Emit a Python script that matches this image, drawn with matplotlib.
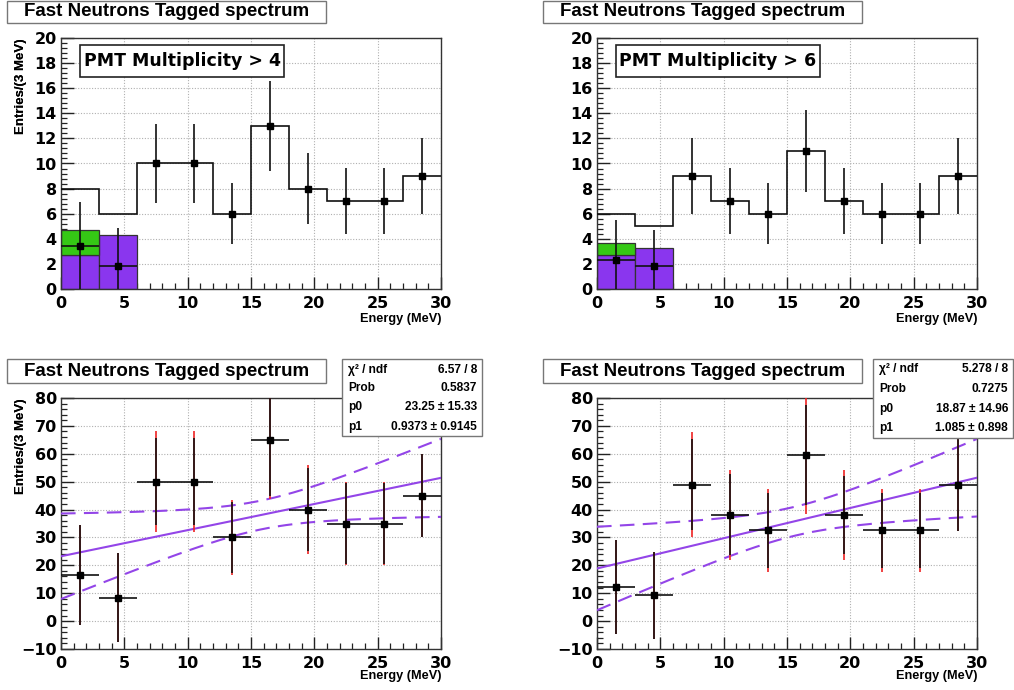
import numpy as np
import matplotlib
matplotlib.use("Agg")
import matplotlib.pyplot as plt
from matplotlib.patches import Rectangle
from matplotlib.ticker import MultipleLocator

# ---------------- data ----------------
edges = [0, 3, 6, 9, 12, 15, 18, 21, 24, 27, 30]
centers = [1.5, 4.5, 7.5, 10.5, 13.5, 16.5, 19.5, 22.5, 25.5, 28.5]

# top-left (PMT Multiplicity > 4)
tl_hist = [8, 6, 10, 10, 6, 13, 8, 7, 7, 9]
tl_pts = [3.4, 1.8, 10, 10, 6, 13, 8, 7, 7, 9]
tl_err = [3.5, 3.1, 3.15, 3.15, 2.45, 3.6, 2.85, 2.65, 2.65, 3.0]
tl_xerr = [1.5, 1.5, 0, 0, 0, 0, 0, 0, 0, 0]
tl_purple = [2.7, 4.3]
tl_green = (2.7, 4.7)

# top-right (PMT Multiplicity > 6)
tr_hist = [6, 5, 9, 7, 6, 11, 7, 6, 6, 9]
tr_pts = [2.3, 1.8, 9, 7, 6, 11, 7, 6, 6, 9]
tr_err = [3.2, 2.9, 3.0, 2.65, 2.45, 3.3, 2.65, 2.45, 2.45, 3.0]
tr_xerr = [1.5, 1.5, 0, 0, 0, 0, 0, 0, 0, 0]
tr_purple = [2.7, 3.3]
tr_green = (2.7, 3.7)

# bottom-left fit panel
bl_pts = [16.6, 8.4, 50, 50, 30, 65, 40, 35, 35, 45]
bl_err_stat = [17.9, 16.0, 15.6, 15.6, 12.7, 20.0, 14.9, 14.5, 14.5, 14.8]
bl_err_tot = [17.9, 16.0, 18.0, 18.0, 13.4, 21.1, 15.8, 15.0, 15.0, 14.8]
bl_p0, bl_p0e = 23.25, 15.33
bl_p1, bl_p1e = 0.9373, 0.9145
bl_cov = -13.2
bl_stats = [("χ² / ndf", "6.57 / 8"), ("Prob", "0.5837"),
            ("p0", "23.25 ± 15.33"), ("p1", "0.9373 ± 0.9145")]

# bottom-right fit panel
br_pts = [12.3, 9.3, 48.9, 38.1, 32.5, 59.7, 38.1, 32.5, 32.5, 48.9]
br_err_stat = [16.8, 15.6, 16.4, 14.5, 13.3, 17.9, 14.0, 13.3, 13.3, 16.5]
br_err_tot = [16.8, 15.6, 18.8, 16.2, 14.8, 21.3, 16.2, 14.8, 14.8, 16.5]
br_p0, br_p0e = 18.87, 14.96
br_p1, br_p1e = 1.085, 0.898
br_cov = -12.6
br_stats = [("χ² / ndf", "5.278 / 8"), ("Prob", "0.7275"),
            ("p0", "18.87 ± 14.96"), ("p1", "1.085 ± 0.898")]

title = "Fast Neutrons Tagged spectrum"
ylab = "Entries/(3 MeV)"
xlab = "Energy (MeV)"

# ---------------- style ----------------
PURPLE_FILL = "#8a36ee"
PURPLE_LINE = "#9345e8"
GREEN = "#35c815"
HFONT = "Liberation Sans"
TFONT = "DejaVu Sans"

W, H = 1014, 690
fig = plt.figure(figsize=(W / 100, H / 100), dpi=100)
fig.patch.set_facecolor("white")


def fx(x):
    return x / W


def fy(y):
    return 1 - y / H


def make_axes(l, t, r, b):
    return fig.add_axes([fx(l), fy(b), (r - l) / W, (b - t) / H])


def fig_box(l, t, r, b, lw=1.0, ec="#555555", z=5):
    fig.patches.append(Rectangle((fx(l), fy(b)), (r - l) / W, (b - t) / H,
                                 transform=fig.transFigure, facecolor="white",
                                 edgecolor=ec, lw=lw, zorder=z))


def style_axes(ax, ylim, ymaj, ymin):
    ax.set_xlim(0, 30)
    ax.set_ylim(*ylim)
    ax.xaxis.set_major_locator(MultipleLocator(5))
    ax.xaxis.set_minor_locator(MultipleLocator(1))
    ax.yaxis.set_major_locator(MultipleLocator(ymaj))
    ax.yaxis.set_minor_locator(MultipleLocator(ymin))
    ax.tick_params(which="major", direction="in", length=9, width=1.0,
                   labelsize=11.5, colors="#222222")
    ax.tick_params(which="minor", direction="in", length=4.5, width=0.9,
                   colors="#222222")
    ax.tick_params(axis="y", pad=3)
    ax.tick_params(axis="x", pad=5)
    for lab in ax.get_xticklabels() + ax.get_yticklabels():
        lab.set_fontfamily(TFONT)
        lab.set_fontweight("bold")
        lab.set_color("black")
    ax.grid(True, which="major", ls=(0, (1, 1.5)), lw=0.8, color="#b0b0b0")
    ax.set_axisbelow(True)
    for s in ax.spines.values():
        s.set_color("#333333")
        s.set_linewidth(1.0)


def frame_text(l, t, r, b):
    fig_box(l, t, r, b, lw=1.0, ec="#777777")
    fig.text(fx((l + r) / 2), fy((t + b) / 2), title, ha="center", va="center",
             fontsize=13.5, fontweight="bold", family=HFONT, zorder=6)


def axis_labels(axl, axt, axr, xlab_y):
    fig.text(fx(21), fy(axt), ylab, rotation=90, ha="center", va="top",
             fontsize=9.5, fontweight="bold", family=HFONT)
    fig.text(fx(axr), fy(xlab_y), xlab, ha="right", va="center",
             fontsize=9.2, fontweight="bold", family=HFONT)


def top_panel(l, hist, pts, err, xerr, purple, green, label, title_l):
    t, r, b = 38, l + 380, 289
    ax = make_axes(l, t, r, b)
    style_axes(ax, (0, 20), 2, 0.4)
    ax.bar(centers[:2], purple, width=3, color=PURPLE_FILL,
           edgecolor="#333333", lw=0.9, zorder=2)
    ax.bar(centers[0], green[1] - green[0], bottom=green[0], width=3,
           color=GREEN, edgecolor="#333333", lw=0.9, zorder=2.1)
    ax.stairs(hist, edges, baseline=None, color="#111111", lw=1.2, zorder=3)
    ax.errorbar(centers, pts, yerr=err, xerr=xerr, fmt="s", ms=5,
                color="black", ecolor="#111111", elinewidth=1.2, capsize=0,
                zorder=4, clip_on=True)
    frame_text(title_l, 1, title_l + 319, 23)
    axis_labels(l, t, r, 319)
    lb_l = l + 19
    fig_box(lb_l, 45, lb_l + 204, 77, lw=1.2, ec="#222222")
    fig.text(fx(lb_l + 102), fy(61), label, ha="center", va="center",
             fontsize=12.5, fontweight="bold", family=TFONT, zorder=6)


def fit_panel(l, pts, es, et, p0, p0e, p1, p1e, cov, stats, title_l, sbox):
    t, r, b = 398, l + 380, 649
    ax = make_axes(l, t, r, b)
    style_axes(ax, (-10, 80), 10, 2)
    xs = np.linspace(0, 30, 300)
    yc = p0 + p1 * xs
    sig = np.sqrt(p0e ** 2 + xs ** 2 * p1e ** 2 + 2 * xs * cov)
    ax.plot(xs, yc, color=PURPLE_LINE, lw=1.5, zorder=3)
    ax.plot(xs, yc + sig, color=PURPLE_LINE, lw=1.5, ls=(0, (7, 4)), zorder=3)
    ax.plot(xs, yc - sig, color=PURPLE_LINE, lw=1.5, ls=(0, (7, 4)), zorder=3)
    ax.errorbar(centers, pts, yerr=et, fmt="none", ecolor="#ee2222",
                elinewidth=1.2, capsize=0, zorder=4)
    ax.errorbar(centers, pts, yerr=es, xerr=[1.5] * len(centers), fmt="s",
                ms=5, color="black", ecolor="#111111", elinewidth=1.2,
                capsize=0, zorder=5)
    frame_text(title_l, 359, title_l + 319, 383)
    axis_labels(l, t, r, 676)
    sl, sr, st, sb, rows = sbox
    fig_box(sl, st, sr, sb, lw=1.0, ec="#777777")
    for (k, v), yy in zip(stats, rows):
        fig.text(fx(sl + 6), fy(yy), k, ha="left", va="center", fontsize=8.6,
                 fontweight="bold", family=HFONT, zorder=6)
        fig.text(fx(sr - 5), fy(yy), v, ha="right", va="center", fontsize=8.6,
                 fontweight="bold", family=HFONT, zorder=6)


top_panel(61, tl_hist, tl_pts, tl_err, tl_xerr, tl_purple, tl_green,
          "PMT Multiplicity > 4", 7)
top_panel(597, tr_hist, tr_pts, tr_err, tr_xerr, tr_purple, tr_green,
          "PMT Multiplicity > 6", 543)
fit_panel(61, bl_pts, bl_err_stat, bl_err_tot, bl_p0, bl_p0e, bl_p1, bl_p1e,
          bl_cov, bl_stats, 7, (342, 482, 359, 436, [370, 388, 407, 427]))
fit_panel(597, br_pts, br_err_stat, br_err_tot, br_p0, br_p0e, br_p1, br_p1e,
          br_cov, br_stats, 543, (873, 1013, 359, 438, [369, 389, 409, 428]))

fig.savefig("out.png", dpi=100)
